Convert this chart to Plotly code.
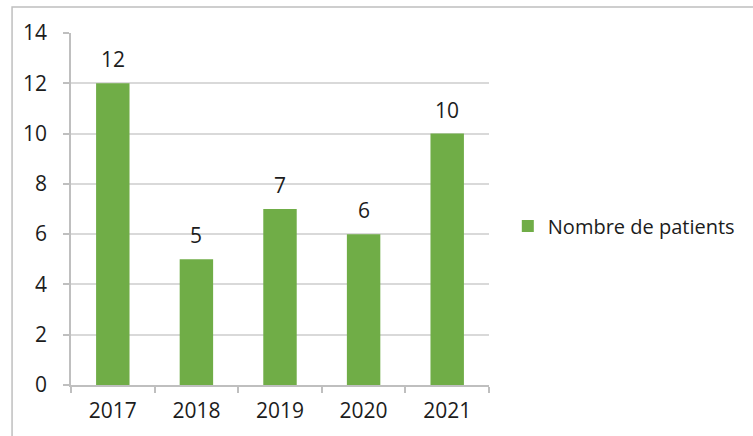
import plotly.graph_objects as go

# Patients per year
years = ["2017", "2018", "2019", "2020", "2021"]
patients = [12, 5, 7, 6, 10]
series_name = "Nombre de patients"

bar_color = "#70AD47"
text_color = "#1c1c1c"
grid_color = "#D9D9D9"
axis_color = "#BFBFBF"
font_family = "Open Sans, Liberation Sans, sans-serif"

fig = go.Figure()
fig.add_trace(go.Bar(
    x=years,
    y=patients,
    name=series_name,
    marker=dict(color=bar_color, line=dict(width=0)),
    width=0.4,
    showlegend=True,
))

# value labels above each bar (category axis positions are serial indices)
for idx, val in enumerate(patients):
    fig.add_annotation(
        x=idx, y=val, text=str(val), showarrow=False,
        yanchor="bottom", yshift=8,
        font=dict(family=font_family, size=21, color=text_color),
    )

# chart frame
fig.add_shape(
    type="rect", xref="paper", yref="paper",
    x0=-0.141, x1=1.7, y0=-0.3, y1=1.074,
    line=dict(color=axis_color, width=1.5), fillcolor="rgba(0,0,0,0)",
    layer="below",
)

fig.update_layout(
    width=753, height=436,
    margin=dict(l=71, r=264, t=33, b=51, autoexpand=False),
    paper_bgcolor="white", plot_bgcolor="white",
    font=dict(family=font_family, size=21, color=text_color),
    bargap=0.6,
    legend=dict(
        x=1.045, y=0.452, xanchor="left", yanchor="middle",
        font=dict(family=font_family, size=20, color=text_color),
        bgcolor="rgba(0,0,0,0)",
        itemwidth=30,
    ),
    xaxis=dict(
        type="category",
        range=[-0.5, len(years) - 0.5],
        showline=True, linecolor=axis_color, linewidth=1.5,
        ticks="outside", tickson="boundaries", ticklen=6, tickcolor=axis_color,
        tickwidth=1.5,
        showgrid=False,
        tickangle=0,
        tickfont=dict(family=font_family, size=21, color=text_color),
        ticklabelstandoff=6,
    ),
    yaxis=dict(
        range=[0, 14], dtick=2,
        showline=True, linecolor=axis_color, linewidth=1.5,
        ticks="outside", ticklen=6, tickcolor=axis_color, tickwidth=1.5,
        showgrid=True, gridcolor=grid_color, gridwidth=1.5,
        zeroline=False,
        tickfont=dict(family=font_family, size=21, color=text_color),
        ticklabelstandoff=12,
    ),
)

fig.write_html("out.html")
